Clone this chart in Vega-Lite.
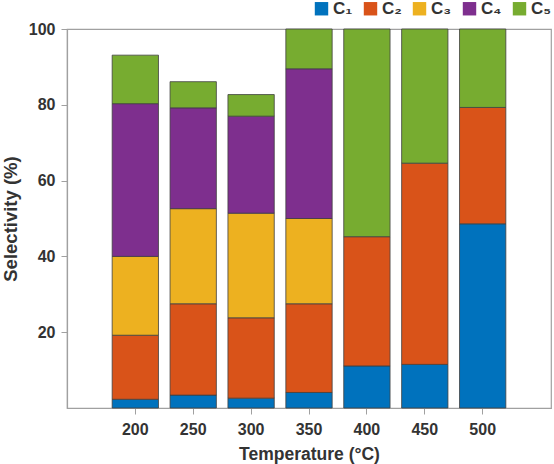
{
  "$schema": "https://vega.github.io/schema/vega-lite/v6.json",
  "autosize": "none",
  "width": 484,
  "height": 379,
  "padding": {"left": 67, "top": 29, "right": 3, "bottom": 56},
  "background": "white",
  "data": {
    "values": [
      {"T": "200", "s": "C₁", "v": 2.3},
      {"T": "200", "s": "C₂", "v": 16.9},
      {"T": "200", "s": "C₃", "v": 20.8},
      {"T": "200", "s": "C₄", "v": 40.3},
      {"T": "200", "s": "C₅", "v": 12.8},
      {"T": "250", "s": "C₁", "v": 3.4},
      {"T": "250", "s": "C₂", "v": 24.1},
      {"T": "250", "s": "C₃", "v": 25.1},
      {"T": "250", "s": "C₄", "v": 26.6},
      {"T": "250", "s": "C₅", "v": 6.9},
      {"T": "300", "s": "C₁", "v": 2.6},
      {"T": "300", "s": "C₂", "v": 21.2},
      {"T": "300", "s": "C₃", "v": 27.6},
      {"T": "300", "s": "C₄", "v": 25.6},
      {"T": "300", "s": "C₅", "v": 5.7},
      {"T": "350", "s": "C₁", "v": 4.1},
      {"T": "350", "s": "C₂", "v": 23.4},
      {"T": "350", "s": "C₃", "v": 22.5},
      {"T": "350", "s": "C₄", "v": 39.5},
      {"T": "350", "s": "C₅", "v": 10.5},
      {"T": "400", "s": "C₁", "v": 11.1},
      {"T": "400", "s": "C₂", "v": 34.1},
      {"T": "400", "s": "C₅", "v": 54.8},
      {"T": "450", "s": "C₁", "v": 11.5},
      {"T": "450", "s": "C₂", "v": 53.1},
      {"T": "450", "s": "C₅", "v": 35.4},
      {"T": "500", "s": "C₁", "v": 48.6},
      {"T": "500", "s": "C₂", "v": 30.7},
      {"T": "500", "s": "C₅", "v": 20.7}
    ]
  },
  "config": {
    "font": "Liberation Sans",
    "view": {"stroke": "#a0a0a0", "strokeWidth": 1.2},
    "axis": {
      "labelFont": "Liberation Sans",
      "titleFont": "Liberation Sans",
      "labelFontWeight": "bold",
      "titleFontWeight": "bold",
      "labelColor": "#333333",
      "titleColor": "#333333",
      "labelFontSize": 16,
      "titleFontSize": 17.5,
      "domainColor": "#a0a0a0",
      "tickColor": "#a0a0a0",
      "grid": false
    }
  },
  "mark": {"type": "bar", "stroke": "#404040", "strokeWidth": 0.8},
  "encoding": {
    "x": {
      "field": "T",
      "type": "ordinal",
      "title": "Temperature (°C)",
      "scale": {"paddingInner": 0.2, "paddingOuter": 0.78},
      "axis": {"labelAngle": 0, "tickSize": 6, "labelPadding": 7, "titlePadding": 8, "domainWidth": 1.2}
    },
    "y": {
      "field": "v",
      "type": "quantitative",
      "stack": "zero",
      "title": "Selectivity (%)",
      "scale": {"domain": [0, 100], "nice": false},
      "axis": {"values": [20, 40, 60, 80, 100], "tickSize": 6, "labelPadding": 6, "titlePadding": 8, "titleFontSize": 18.5, "domainWidth": 1.2}
    },
    "color": {
      "field": "s",
      "type": "nominal",
      "scale": {
        "domain": ["C₁", "C₂", "C₃", "C₄", "C₅"],
        "range": ["#0072BD", "#D95319", "#EDB120", "#7E2F8E", "#77AC30"]
      },
      "legend": {
        "title": null,
        "orient": "none",
        "direction": "horizontal",
        "legendX": 246,
        "legendY": -29,
        "symbolType": "square",
        "symbolSize": 180,
        "symbolStrokeWidth": 0,
        "symbolOpacity": 1,
        "labelFont": "Liberation Sans",
        "labelFontWeight": "bold",
        "labelFontSize": 17,
        "labelColor": "#333333",
        "labelOffset": 3,
        "columnPadding": 9
      }
    },
    "order": {"field": "s", "sort": "ascending"}
  }
}
